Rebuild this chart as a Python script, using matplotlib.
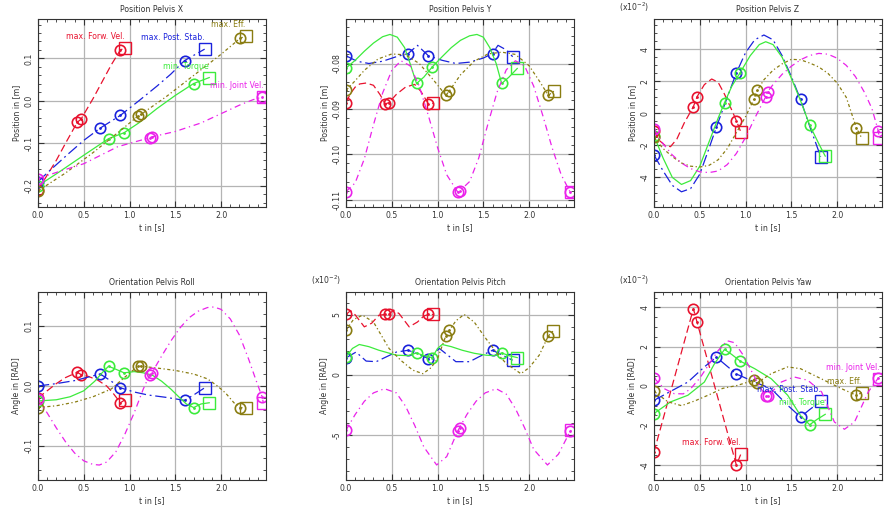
import numpy as np
import matplotlib
matplotlib.use('Agg')
import matplotlib.pyplot as plt
from matplotlib.ticker import MultipleLocator

# times of the circle markers (same in every panel), square = last point
circ_red = [0, 0.43, 0.47, 0.9]
circ_blue = [0, 0.68, 0.9, 1.6]
circ_green = [0, 0.77, 0.94, 1.7]
circ_olive = [0, 1.09, 1.13, 2.21]
circ_mag = [0, 1.22, 1.24, 2.45]

names = ['max. Forw. Vel.', 'max. Post. Stab.', 'min. Torque', 'max. Eff.', 'min. Joint Vel.']

# ---- Position Pelvis X [m]
px_red_t = [0, 0.1, 0.2, 0.3, 0.43, 0.47, 0.6, 0.7, 0.8, 0.9, 0.95]
px_red_v = [-0.21, -0.175, -0.14, -0.1, -0.05, -0.043, 0.005, 0.045, 0.085, 0.12, 0.125]
px_blue_t = [0, 0.15, 0.33, 0.5, 0.68, 0.9, 1.1, 1.3, 1.45, 1.6, 1.82]
px_blue_v = [-0.19, -0.16, -0.125, -0.093, -0.064, -0.034, 0.0, 0.035, 0.063, 0.095, 0.122]
px_green_t = [0, 0.2, 0.5, 0.77, 0.94, 1.1, 1.3, 1.5, 1.7, 1.87]
px_green_v = [-0.2, -0.172, -0.128, -0.089, -0.075, -0.052, -0.018, 0.013, 0.041, 0.055]
px_olive_t = [0, 0.3, 0.6, 0.9, 1.09, 1.13, 1.4, 1.7, 2.0, 2.21, 2.27]
px_olive_v = [-0.212, -0.17, -0.122, -0.07, -0.036, -0.031, 0.01, 0.06, 0.11, 0.148, 0.152]
px_mag_t = [0, 0.25, 0.5, 0.87, 1.05, 1.22, 1.24, 1.5, 1.78, 2.0, 2.2, 2.35, 2.45, 2.46]
px_mag_v = [-0.183, -0.165, -0.148, -0.108, -0.097, -0.087, -0.085, -0.072, -0.052, -0.03, -0.01, 0.003, 0.009, 0.01]

# ---- Position Pelvis Y [m]
py_red_t = [0, 0.05, 0.1, 0.15, 0.22, 0.3, 0.37, 0.43, 0.47, 0.55, 0.65, 0.75, 0.82, 0.9, 0.95]
py_red_v = [-0.0886, -0.0866, -0.0852, -0.0845, -0.0843, -0.0848, -0.0868, -0.0889, -0.0886,
            -0.0868, -0.0852, -0.0846, -0.0862, -0.0889, -0.0888]
py_blue_t = [0, 0.12, 0.25, 0.4, 0.55, 0.68, 0.78, 0.9, 1.05, 1.2, 1.35, 1.5, 1.6, 1.66, 1.75, 1.82]
py_blue_v = [-0.0783, -0.0795, -0.0800, -0.0795, -0.0785, -0.0778, -0.0760, -0.0783, -0.0793,
             -0.0800, -0.0797, -0.0788, -0.0778, -0.0760, -0.0770, -0.0785]
py_green_t = [0, 0.1, 0.2, 0.3, 0.4, 0.48, 0.56, 0.64, 0.7, 0.77, 0.85, 0.94, 1.05, 1.15, 1.25,
              1.35, 1.43, 1.5, 1.57, 1.64, 1.7, 1.78, 1.87]
py_green_v = [-0.081, -0.0793, -0.0773, -0.0755, -0.0741, -0.0736, -0.0742, -0.0765, -0.080,
              -0.0844, -0.0830, -0.0808, -0.0785, -0.0765, -0.0749, -0.0739, -0.0736, -0.0742,
              -0.0765, -0.080, -0.0844, -0.0830, -0.0811]
py_olive_t = [0, 0.1, 0.2, 0.35, 0.5, 0.65, 0.8, 0.95, 1.09, 1.13, 1.25, 1.4, 1.55, 1.7, 1.85,
              2.0, 2.1, 2.21, 2.27]
py_olive_v = [-0.0859, -0.0838, -0.0815, -0.0790, -0.0779, -0.0781, -0.0800, -0.0835, -0.0870,
              -0.0860, -0.0825, -0.0795, -0.0779, -0.0775, -0.0780, -0.0805, -0.0835, -0.0870,
              -0.0861]
py_mag_t = [0, 0.1, 0.2, 0.3, 0.4, 0.5, 0.6, 0.7, 0.8, 0.9, 1.0, 1.1, 1.22, 1.24, 1.35, 1.45,
            1.55, 1.65, 1.75, 1.85, 1.95, 2.05, 2.15, 2.25, 2.35, 2.45, 2.46]
py_mag_v = [-0.1082, -0.1063, -0.1010, -0.0935, -0.0865, -0.0815, -0.0794, -0.0805, -0.0850,
            -0.0915, -0.0985, -0.1045, -0.1083, -0.1081, -0.1060, -0.1008, -0.0933, -0.0863,
            -0.0814, -0.0794, -0.0805, -0.0850, -0.0915, -0.0985, -0.1045, -0.1084, -0.1084]

# ---- Position Pelvis Z [x1e-2 m]
pz_red_t = [0, 0.06, 0.12, 0.18, 0.25, 0.33, 0.43, 0.47, 0.55, 0.63, 0.7, 0.77, 0.85, 0.9, 0.95]
pz_red_v = [-1.1, -1.7, -2.0, -2.08, -1.6, -0.6, 0.42, 1.04, 1.8, 2.15, 1.95, 1.2, 0.2, -0.46, -1.19]
pz_blue_t = [0, 0.1, 0.2, 0.3, 0.4, 0.5, 0.6, 0.68, 0.8, 0.9, 1.0, 1.1, 1.2, 1.3, 1.4, 1.5, 1.6, 1.7, 1.82]
pz_blue_v = [-2.6, -3.6, -4.5, -4.9, -4.7, -3.8, -2.2, -0.875, 1.0, 2.54, 3.8, 4.6, 4.9, 4.6, 3.6,
             2.3, 0.875, -0.8, -2.7]
pz_green_t = [0, 0.1, 0.2, 0.3, 0.4, 0.5, 0.6, 0.7, 0.77, 0.85, 0.94, 1.05, 1.15, 1.22, 1.3, 1.4,
              1.5, 1.6, 1.7, 1.8, 1.87]
pz_green_v = [-1.4, -2.8, -4.0, -4.44, -4.2, -3.3, -1.8, -0.3, 0.67, 1.7, 2.54, 3.6, 4.3, 4.48, 4.3,
              3.5, 2.2, 0.8, -0.73, -1.9, -2.67]
pz_olive_t = [0, 0.1, 0.2, 0.3, 0.4, 0.5, 0.6, 0.7, 0.8, 0.9, 1.0, 1.09, 1.13, 1.2, 1.3, 1.4, 1.5,
              1.6, 1.7, 1.8, 1.9, 2.0, 2.1, 2.21, 2.27]
pz_olive_v = [-1.5, -2.2, -2.7, -3.1, -3.3, -3.35, -3.25, -2.9, -2.2, -1.2, -0.2, 0.875, 1.46, 2.1,
              2.7, 3.1, 3.38, 3.35, 3.15, 2.9, 2.5, 1.9, 1.0, -0.9, -1.56]
pz_mag_t = [0, 0.1, 0.2, 0.3, 0.4, 0.5, 0.6, 0.7, 0.8, 0.9, 1.0, 1.1, 1.22, 1.24, 1.3, 1.4, 1.5,
            1.6, 1.7, 1.8, 1.9, 2.0, 2.1, 2.2, 2.3, 2.38, 2.45, 2.46]
pz_mag_v = [-1.0, -1.9, -2.6, -3.1, -3.45, -3.65, -3.7, -3.6, -3.2, -2.5, -1.5, -0.3, 1.04, 1.35,
            1.8, 2.45, 2.95, 3.35, 3.62, 3.75, 3.7, 3.45, 3.0, 2.3, 1.3, 0.3, -1.1, -1.56]

# ---- Orientation Pelvis Roll [RAD]
ro_red_t = [0, 0.1, 0.2, 0.3, 0.43, 0.47, 0.55, 0.65, 0.75, 0.82, 0.9, 0.95]
ro_red_v = [-0.02, -0.008, 0.004, 0.014, 0.023, 0.019, 0.016, 0.01, 0.0, -0.012, -0.028, -0.023]
ro_blue_t = [0, 0.2, 0.4, 0.55, 0.68, 0.8, 0.9, 1.05, 1.2, 1.4, 1.6, 1.7, 1.82]
ro_blue_v = [0.0, 0.004, 0.009, 0.015, 0.02, 0.008, -0.003, -0.01, -0.015, -0.019, -0.024, -0.015, -0.003]
ro_green_t = [0, 0.2, 0.35, 0.5, 0.62, 0.7, 0.77, 0.85, 0.94, 1.05, 1.15, 1.25, 1.35, 1.45, 1.55,
              1.62, 1.7, 1.78, 1.87]
ro_green_v = [-0.025, -0.023, -0.018, -0.008, 0.008, 0.022, 0.033, 0.028, 0.022, 0.024, 0.022,
              0.018, 0.008, -0.005, -0.02, -0.03, -0.036, -0.03, -0.028]
ro_olive_t = [0, 0.2, 0.4, 0.6, 0.8, 0.95, 1.09, 1.13, 1.3, 1.5, 1.7, 1.85, 1.96, 2.05, 2.14, 2.21, 2.27]
ro_olive_v = [-0.036, -0.033, -0.027, -0.018, -0.005, 0.015, 0.033, 0.033, 0.03, 0.026, 0.02,
              0.012, 0.0, -0.012, -0.028, -0.036, -0.037]
ro_mag_t = [0, 0.1, 0.2, 0.3, 0.4, 0.5, 0.6, 0.67, 0.75, 0.85, 0.95, 1.05, 1.15, 1.22, 1.24, 1.35,
            1.45, 1.55, 1.65, 1.75, 1.85, 1.92, 2.0, 2.1, 2.2, 2.3, 2.38, 2.45, 2.46]
ro_mag_v = [-0.022, -0.045, -0.07, -0.093, -0.112, -0.125, -0.131, -0.132, -0.127, -0.11, -0.08,
            -0.045, -0.005, 0.019, 0.021, 0.05, 0.075, 0.097, 0.114, 0.125, 0.131, 0.132, 0.128,
            0.112, 0.085, 0.045, 0.01, -0.019, -0.028]

# ---- Orientation Pelvis Pitch [x1e-2 RAD]
pi_red_t = [0, 0.05, 0.1, 0.2, 0.28, 0.36, 0.43, 0.47, 0.52, 0.58, 0.69, 0.78, 0.85, 0.9, 0.95]
pi_red_v = [5.03, 5.35, 5.0, 4.0, 4.3, 4.97, 5.03, 5.05, 5.4, 5.1, 4.0, 4.4, 4.9, 5.03, 5.03]
pi_blue_t = [0, 0.11, 0.22, 0.33, 0.44, 0.55, 0.68, 0.8, 0.9, 1.02, 1.2, 1.35, 1.45, 1.6, 1.72, 1.82]
pi_blue_v = [1.42, 1.9, 1.15, 1.1, 1.5, 1.9, 2.05, 1.7, 1.36, 2.2, 1.1, 1.1, 1.5, 2.05, 1.6, 1.22]
pi_green_t = [0, 0.07, 0.145, 0.25, 0.36, 0.55, 0.68, 0.77, 0.85, 0.94, 1.0, 1.05, 1.15, 1.27, 1.4,
              1.53, 1.62, 1.7, 1.78, 1.87]
pi_green_v = [1.5, 2.2, 2.53, 2.35, 2.05, 1.64, 1.6, 1.83, 1.6, 1.44, 2.2, 2.53, 2.35, 2.05, 1.8,
              1.64, 1.6, 1.83, 1.6, 1.44]
pi_olive_t = [0, 0.08, 0.18, 0.3, 0.47, 0.6, 0.73, 0.84, 0.93, 1.0, 1.09, 1.13, 1.2, 1.29, 1.4,
              1.53, 1.65, 1.75, 1.91, 2.0, 2.11, 2.21, 2.26]
pi_olive_v = [3.72, 4.6, 4.97, 4.4, 2.2, 1.2, 0.39, 0.1, 0.6, 1.36, 3.25, 3.72, 4.5, 5.03, 4.4,
              3.0, 1.8, 0.94, 0.1, 0.6, 1.64, 3.25, 3.64]
pi_mag_t = [0, 0.1, 0.2, 0.3, 0.42, 0.55, 0.65, 0.75, 0.85, 0.99, 1.1, 1.22, 1.24, 1.32, 1.42, 1.52,
            1.64, 1.75, 1.85, 1.95, 2.05, 2.2, 2.32, 2.45, 2.46]
pi_mag_v = [-4.6, -3.3, -2.2, -1.5, -1.15, -1.5, -2.6, -4.2, -6.0, -7.5, -6.8, -4.67, -4.4, -3.3,
            -2.2, -1.5, -1.15, -1.6, -2.8, -4.4, -6.2, -7.5, -6.6, -4.67, -4.6]

# ---- Orientation Pelvis Yaw [x1e-2 RAD]
ya_red_t = [0, 0.43, 0.47, 0.9, 0.95]
ya_red_v = [-3.36, 3.93, 3.25, -4.03, -3.44]
ya_blue_t = [0, 0.15, 0.37, 0.55, 0.68, 0.8, 0.9, 1.1, 1.28, 1.46, 1.6, 1.7, 1.82]
ya_blue_v = [-0.73, -0.35, 0.2, 0.97, 1.47, 1.0, 0.61, 0.2, -0.14, -0.98, -1.58, -1.2, -0.78]
ya_green_t = [0, 0.18, 0.37, 0.55, 0.66, 0.77, 0.85, 0.94, 1.1, 1.28, 1.46, 1.6, 1.7, 1.78, 1.87]
ya_green_v = [-1.4, -0.81, -0.47, 0.2, 1.13, 1.86, 1.6, 1.27, 0.88, 0.37, -0.47, -1.5, -1.97, -1.7, -1.44]
ya_olive_t = [0, 0.15, 0.3, 0.45, 0.6, 0.75, 0.91, 1.09, 1.13, 1.28, 1.46, 1.6, 1.75, 1.9, 2.05, 2.21, 2.27]
ya_olive_v = [-0.27, -0.8, -1.0, -0.75, -0.45, -0.12, 0.03, 0.29, 0.17, 0.63, 0.97, 0.88, 0.54,
              0.2, -0.14, -0.47, -0.34]
ya_mag_t = [0, 0.11, 0.22, 0.32, 0.4, 0.5, 0.6, 0.7, 0.8, 0.88, 0.97, 1.06, 1.15, 1.22, 1.24, 1.39,
            1.53, 1.68, 1.83, 1.97, 2.08, 2.19, 2.34, 2.45, 2.46]
ya_mag_v = [0.41, -0.13, -0.39, -0.4, -0.14, 0.4, 1.1, 1.8, 2.3, 2.2, 1.6, 0.8, 0.0, -0.5, -0.53,
            0.2, 0.46, 0.29, -0.3, -1.83, -2.2, -1.83, -0.3, 0.41, 0.38]

colors = ['#e8122e', '#1a22dc', '#3ceb3c', '#8a7d12', '#ea22ea']
dashes = [(6, 3), (9, 3, 1.5, 3), None, (2.5, 2, 1, 2), (5, 3, 1, 3)]
circ_all = [circ_red, circ_blue, circ_green, circ_olive, circ_mag]

panels = [
    ('Position Pelvis X', 'Position in [m]',
     [(px_red_t, px_red_v), (px_blue_t, px_blue_v), (px_green_t, px_green_v),
      (px_olive_t, px_olive_v), (px_mag_t, px_mag_v)],
     (-0.25, 0.193), 0.1, 0.02, '%.1f', False, True),
    ('Position Pelvis Y', 'Position in [m]',
     [(py_red_t, py_red_v), (py_blue_t, py_blue_v), (py_green_t, py_green_v),
      (py_olive_t, py_olive_v), (py_mag_t, py_mag_v)],
     (-0.1116, -0.0702), 0.01, 0.002, '%.2f', False, False),
    ('Position Pelvis Z', 'Position in [m]',
     [(pz_red_t, pz_red_v), (pz_blue_t, pz_blue_v), (pz_green_t, pz_green_v),
      (pz_olive_t, pz_olive_v), (pz_mag_t, pz_mag_v)],
     (-5.85, 5.9), 2, 0.5, '%d', True, False),
    ('Orientation Pelvis Roll', 'Angle in [RAD]',
     [(ro_red_t, ro_red_v), (ro_blue_t, ro_blue_v), (ro_green_t, ro_green_v),
      (ro_olive_t, ro_olive_v), (ro_mag_t, ro_mag_v)],
     (-0.157, 0.157), 0.1, 0.02, '%.1f', False, False),
    ('Orientation Pelvis Pitch', 'Angle in [RAD]',
     [(pi_red_t, pi_red_v), (pi_blue_t, pi_blue_v), (pi_green_t, pi_green_v),
      (pi_olive_t, pi_olive_v), (pi_mag_t, pi_mag_v)],
     (-8.75, 6.9), 5, 1, '%d', True, False),
    ('Orientation Pelvis Yaw', 'Angle in [RAD]',
     [(ya_red_t, ya_red_v), (ya_blue_t, ya_blue_v), (ya_green_t, ya_green_v),
      (ya_olive_t, ya_olive_v), (ya_mag_t, ya_mag_v)],
     (-4.78, 4.78), 2, 0.5, '%d', True, True),
]

plt.rcParams['font.family'] = 'DejaVu Sans'
plt.rcParams['font.size'] = 5.6
plt.rcParams['axes.unicode_minus'] = False
txt = '#333333'

fig = plt.figure(figsize=(8.85, 5.12), dpi=100)
W, H = 885.0, 512.0
lefts = [38, 346, 654]
tops = [19, 292]

for k, (title, ylab, series, ylim, major, minor, fmt, scaled, labels) in enumerate(panels):
    x0 = lefts[k % 3]
    y0 = tops[k // 3]
    ax = fig.add_axes([x0 / W, 1 - (y0 + 188) / H, 228 / W, 188 / H])
    for i, (t, v) in enumerate(series):
        t = np.array(t)
        v = np.array(v)
        kw = dict(color=colors[i], lw=0.9)
        if dashes[i] is not None:
            kw['dashes'] = dashes[i]
        ax.plot(t, v, **kw)
        idx = [int(np.argmin(np.abs(t - c))) for c in circ_all[i]]
        ax.plot(t[idx], v[idx], 'o', ms=7.5, mfc='none', mec=colors[i], mew=1.2)
        ax.plot(t[idx], v[idx], '.', ms=2, color=colors[i])
        ax.plot(t[-1], v[-1], 's', ms=9, mfc='none', mec=colors[i], mew=1.0)
        if labels:
            ax.annotate(names[i], (t[-1], v[-1]), xytext=(0, 5), textcoords='offset points',
                        ha='right', va='bottom', color=colors[i], fontsize=5.6,
                        annotation_clip=False)
    ax.set_xlim(0, 2.49)
    ax.set_ylim(*ylim)
    ax.xaxis.set_major_locator(MultipleLocator(0.5))
    ax.xaxis.set_minor_locator(MultipleLocator(0.1))
    ax.yaxis.set_major_locator(MultipleLocator(major))
    ax.yaxis.set_minor_locator(MultipleLocator(minor))
    ax.xaxis.set_major_formatter(plt.FormatStrFormatter('%.1f'))
    ax.yaxis.set_major_formatter(plt.FormatStrFormatter(fmt))
    ax.grid(True, which='major', color='#b4b4b4', lw=0.9)
    ax.set_axisbelow(True)
    ax.tick_params(which='both', direction='in', top=True, right=True, colors='#333333',
                   labelcolor=txt, pad=3)
    ax.tick_params(which='major', length=4, width=0.8)
    ax.tick_params(which='minor', length=2, width=0.6)
    plt.setp(ax.get_yticklabels(), rotation=90, va='center')
    for s in ax.spines.values():
        s.set_color('#333333')
        s.set_linewidth(0.8)
    ax.set_title(title, color=txt, pad=5, fontsize=5.6)
    ax.set_xlabel('t in [s]', color=txt, labelpad=2)
    ax.set_ylabel(ylab, color=txt, labelpad=3)
    if scaled:
        ax.text(-0.02, 1.06, r'(x10$^{-2}$)', transform=ax.transAxes, ha='right', va='center',
                color=txt, fontsize=5.6)

fig.savefig('out.png', dpi=100)
